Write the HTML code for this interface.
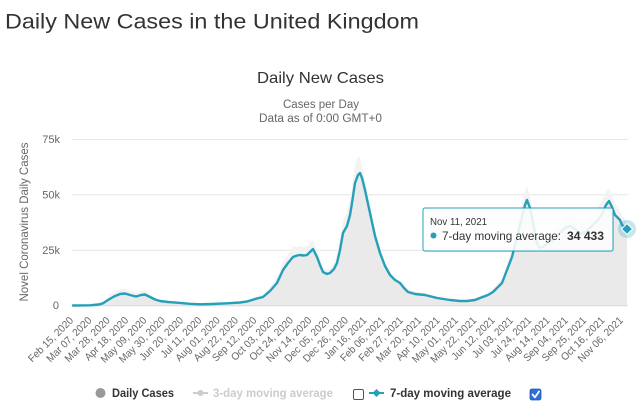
<!DOCTYPE html>
<html>
<head>
<meta charset="utf-8">
<style>
html,body{margin:0;padding:0;background:#fff;}
svg{display:block;font-family:"Liberation Sans",Arial,sans-serif;}
</style>
</head>
<body>
<svg width="643" height="414" viewBox="0 0 643 414" xmlns="http://www.w3.org/2000/svg">
<rect width="643" height="414" fill="#fff"/>
<!-- Page title -->
<text x="5" y="28.5" font-size="21.5" fill="#333" textLength="414" lengthAdjust="spacingAndGlyphs">Daily New Cases in the United Kingdom</text>
<!-- Chart title -->
<text x="320.5" y="83" font-size="16" fill="#333" text-anchor="middle" textLength="127" lengthAdjust="spacingAndGlyphs">Daily New Cases</text>
<text x="321" y="108" font-size="11.5" fill="#666" text-anchor="middle" textLength="76" lengthAdjust="spacingAndGlyphs">Cases per Day</text>
<text x="320.5" y="122" font-size="11.5" fill="#666" text-anchor="middle" textLength="123" lengthAdjust="spacingAndGlyphs">Data as of 0:00 GMT+0</text>

<!-- Gridlines -->
<g stroke="#e6e6e6" stroke-width="1">
<line x1="72" y1="139.5" x2="628" y2="139.5"/>
<line x1="72" y1="194.8" x2="628" y2="194.8"/>
<line x1="72" y1="250.2" x2="628" y2="250.2"/>
</g>
<line x1="72" y1="305.8" x2="628" y2="305.8" stroke="#ccd6eb" stroke-width="1"/>

<!-- Y labels -->
<g font-size="11" fill="#666" text-anchor="end">
<text x="60" y="143">75k</text>
<text x="60" y="198.5">50k</text>
<text x="60" y="254">25k</text>
<text x="59" y="309">0</text>
</g>
<text transform="translate(28,222) rotate(-90)" font-size="12" fill="#666" text-anchor="middle" textLength="159" lengthAdjust="spacingAndGlyphs">Novel Coronavirus Daily Cases</text>

<!-- Daily cases (grey) -->
<polygon fill="#f3f3f3" points="73,305.5 103,302 108,297 114,292 120,289 125,288.5 130,291 136,293 141,291 145,290 150,294 155,298 160,300 177,302 200,303.8 227,302.5 247,300.5 257,296 263,294 270,287 277,277 283,262 288,254 293,246 297,247 300,246 304,247 307,246 310,243 313,240 317,249 320,259 323,268 327,270 330,268 334,263 337,255 340,240 343,220 347,212 350,200 352,188 355,165 358,156 360,158 362,165 365,180 370,205 375,230 380,248 385,262 390,272 395,278 400,281 408,290 425,293 437,296.5 450,299 467,300 480,296.5 488,293 497,285 502,279 507,264 512,248 517,225 522,203 525,192 527,186 530,196 533,212 536,232 539,240 543,240 548,236 555,229 560,223 565,216 570,213 575,218 580,224 585,222 590,217 595,211 598,207 602,200 606,192 609,188 612,196 615,204 618,208 620,211 622,216 625,219 627,222 627,305.5"/>
<polygon fill="#eaeaea" points="73,305.5 90,305.3 99,304.5 103,303.3 108,300 114,296.5 120,294 125,293.5 130,295 136,296.5 141,295 145,294.5 150,297 155,299.5 160,301 168,302 177,302.7 190,303.8 200,304.3 212,304 227,303.3 240,302.5 247,301.5 252,300 257,298.5 263,297 270,291 277,283 283,270 288,263 293,257 297,255.5 300,255 304,255.5 307,255 310,252 313,249 317,257 320,265 323,272 327,274 330,273 334,269 337,263 340,250 343,233 347,226 350,215 352,203 355,183 358,175 360,173 362,178 365,190 370,213 375,236 380,253 385,266 390,275 395,280 400,283 404,288 408,292 415,294 425,295 437,298 450,300 460,301 467,301 475,300 480,298 488,295 493,292 497,288 502,283 507,270 512,257 517,237 522,217 525,205 527,200 530,208 533,222 536,240 539,248 543,247 548,243 555,238 560,233 565,228 570,226 575,229 580,234 585,232 590,228 595,223 598,220 602,214 606,205 609,201 612,207 615,215 618,218 620,220 622,225 625,227 627,229 627,305.5"/>

<!-- 7-day moving average -->
<polyline fill="none" stroke="#25a0b8" stroke-width="2.4" stroke-linejoin="round" stroke-linecap="round" points="73,305.5 90,305.3 99,304.5 103,303.3 108,300 114,296.5 120,294 125,293.5 130,295 136,296.5 141,295 145,294.5 150,297 155,299.5 160,301 168,302 177,302.7 190,303.8 200,304.3 212,304 227,303.3 240,302.5 247,301.5 252,300 257,298.5 263,297 270,291 277,283 283,270 288,263 293,257 297,255.5 300,255 304,255.5 307,255 310,252 313,249 317,257 320,265 323,272 327,274 330,273 334,269 337,263 340,250 343,233 347,226 350,215 352,203 355,183 358,175 360,173 362,178 365,190 370,213 375,236 380,253 385,266 390,275 395,280 400,283 404,288 408,292 415,294 425,295 437,298 450,300 460,301 467,301 475,300 480,298 488,295 493,292 497,288 502,283 507,270 512,257 517,237 522,217 525,205 527,200 530,208 533,222 536,240 539,248 543,247 548,243 555,238 560,233 565,228 570,226 575,229 580,234 585,232 590,228 595,223 598,220 602,214 606,205 609,201 612,207 615,215 618,218 620,220 622,225 625,227 627,229"/>

<!-- X labels -->
<g font-size="10.5" fill="#666" text-anchor="end">
<text transform="translate(74,321) rotate(-45)" textLength="59" lengthAdjust="spacingAndGlyphs">Feb 15, 2020</text>
<text transform="translate(92.3,321) rotate(-45)" textLength="59" lengthAdjust="spacingAndGlyphs">Mar 07, 2020</text>
<text transform="translate(110.6,321) rotate(-45)" textLength="59" lengthAdjust="spacingAndGlyphs">Mar 28, 2020</text>
<text transform="translate(129,321) rotate(-45)" textLength="57" lengthAdjust="spacingAndGlyphs">Apr 18, 2020</text>
<text transform="translate(147.3,321) rotate(-45)" textLength="60" lengthAdjust="spacingAndGlyphs">May 09, 2020</text>
<text transform="translate(165.6,321) rotate(-45)" textLength="60" lengthAdjust="spacingAndGlyphs">May 30, 2020</text>
<text transform="translate(183.9,321) rotate(-45)" textLength="57" lengthAdjust="spacingAndGlyphs">Jun 20, 2020</text>
<text transform="translate(202.2,321) rotate(-45)" textLength="53" lengthAdjust="spacingAndGlyphs">Jul 11, 2020</text>
<text transform="translate(220.6,321) rotate(-45)" textLength="58" lengthAdjust="spacingAndGlyphs">Aug 01, 2020</text>
<text transform="translate(238.9,321) rotate(-45)" textLength="58" lengthAdjust="spacingAndGlyphs">Aug 22, 2020</text>
<text transform="translate(257.2,321) rotate(-45)" textLength="58" lengthAdjust="spacingAndGlyphs">Sep 12, 2020</text>
<text transform="translate(275.5,321) rotate(-45)" textLength="57" lengthAdjust="spacingAndGlyphs">Oct 03, 2020</text>
<text transform="translate(293.8,321) rotate(-45)" textLength="57" lengthAdjust="spacingAndGlyphs">Oct 24, 2020</text>
<text transform="translate(312.2,321) rotate(-45)" textLength="59" lengthAdjust="spacingAndGlyphs">Nov 14, 2020</text>
<text transform="translate(330.5,321) rotate(-45)" textLength="59" lengthAdjust="spacingAndGlyphs">Dec 05, 2020</text>
<text transform="translate(348.8,321) rotate(-45)" textLength="59" lengthAdjust="spacingAndGlyphs">Dec 26, 2020</text>
<text transform="translate(367.1,321) rotate(-45)" textLength="55" lengthAdjust="spacingAndGlyphs">Jan 16, 2021</text>
<text transform="translate(385.4,321) rotate(-45)" textLength="58" lengthAdjust="spacingAndGlyphs">Feb 06, 2021</text>
<text transform="translate(403.8,321) rotate(-45)" textLength="58" lengthAdjust="spacingAndGlyphs">Feb 27, 2021</text>
<text transform="translate(422.1,321) rotate(-45)" textLength="59" lengthAdjust="spacingAndGlyphs">Mar 20, 2021</text>
<text transform="translate(440.4,321) rotate(-45)" textLength="57" lengthAdjust="spacingAndGlyphs">Apr 10, 2021</text>
<text transform="translate(458.7,321) rotate(-45)" textLength="60" lengthAdjust="spacingAndGlyphs">May 01, 2021</text>
<text transform="translate(477,321) rotate(-45)" textLength="60" lengthAdjust="spacingAndGlyphs">May 22, 2021</text>
<text transform="translate(495.4,321) rotate(-45)" textLength="56" lengthAdjust="spacingAndGlyphs">Jun 12, 2021</text>
<text transform="translate(513.7,321) rotate(-45)" textLength="53" lengthAdjust="spacingAndGlyphs">Jul 03, 2021</text>
<text transform="translate(532,321) rotate(-45)" textLength="53" lengthAdjust="spacingAndGlyphs">Jul 24, 2021</text>
<text transform="translate(550.3,321) rotate(-45)" textLength="58" lengthAdjust="spacingAndGlyphs">Aug 14, 2021</text>
<text transform="translate(568.6,321) rotate(-45)" textLength="58" lengthAdjust="spacingAndGlyphs">Sep 04, 2021</text>
<text transform="translate(587,321) rotate(-45)" textLength="58" lengthAdjust="spacingAndGlyphs">Sep 25, 2021</text>
<text transform="translate(605.3,321) rotate(-45)" textLength="57" lengthAdjust="spacingAndGlyphs">Oct 16, 2021</text>
<text transform="translate(623.6,321) rotate(-45)" textLength="59" lengthAdjust="spacingAndGlyphs">Nov 06, 2021</text>
</g>

<!-- Tooltip -->
<rect x="424" y="209" width="190" height="43" fill="#000" opacity="0.06" rx="2"/>
<rect x="423" y="208" width="190" height="43" fill="#fff" fill-opacity="0.88" stroke="#25a0b8" stroke-width="1" rx="2"/>
<text x="430" y="225" font-size="10" fill="#333" textLength="57" lengthAdjust="spacingAndGlyphs">Nov 11, 2021</text>
<circle cx="433.5" cy="235.5" r="3" fill="#25a0b8"/>
<text x="442" y="240" font-size="12" fill="#333" textLength="119" lengthAdjust="spacingAndGlyphs">7-day moving average:</text>
<text x="567" y="240" font-size="12" font-weight="bold" fill="#333" textLength="37" lengthAdjust="spacingAndGlyphs">34 433</text>

<!-- Hover point -->
<circle cx="627" cy="229" r="9" fill="#25a0b8" opacity="0.25"/>
<polygon points="627,223.5 632.5,229 627,234.5 621.5,229" fill="#25a0b8" stroke="#fff" stroke-width="1"/>

<!-- Legend -->
<circle cx="100.5" cy="393" r="5" fill="#999"/>
<text x="112" y="397" font-size="12" font-weight="bold" fill="#333" textLength="62" lengthAdjust="spacingAndGlyphs">Daily Cases</text>
<line x1="193" y1="393" x2="208" y2="393" stroke="#ccc" stroke-width="2"/>
<circle cx="200.5" cy="393" r="3" fill="#ccc"/>
<text x="213" y="397" font-size="12" font-weight="bold" fill="#ccc" textLength="120" lengthAdjust="spacingAndGlyphs">3-day moving average</text>
<rect x="353.5" y="389.5" width="10" height="10" rx="1.5" fill="#fff" stroke="#555" stroke-width="1"/>
<line x1="369" y1="393" x2="384" y2="393" stroke="#25a0b8" stroke-width="2"/>
<polygon points="376.5,389 380.5,393 376.5,397 372.5,393" fill="#25a0b8"/>
<text x="390" y="397" font-size="12" font-weight="bold" fill="#333" textLength="121" lengthAdjust="spacingAndGlyphs">7-day moving average</text>
<rect x="530" y="389" width="11" height="11" rx="2" fill="#2f6fd8" stroke="#2458b0" stroke-width="0.8"/>
<polyline points="532.5,394.5 535,397.3 539,391.5" fill="none" stroke="#fff" stroke-width="1.8" stroke-linecap="round" stroke-linejoin="round"/>
</svg>
</body>
</html>
